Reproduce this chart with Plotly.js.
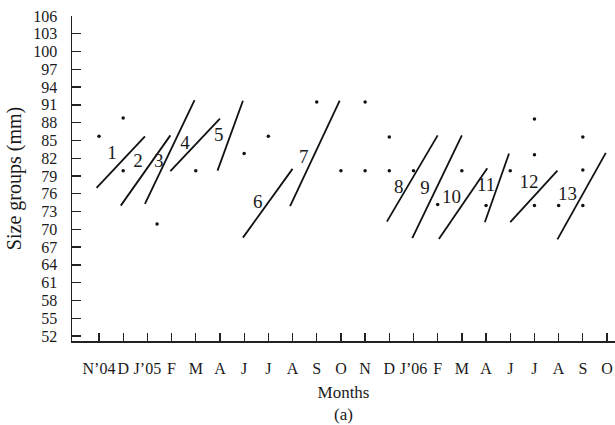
<!DOCTYPE html>
<html>
<head>
<meta charset="utf-8">
<script src="https://cdn.plot.ly/plotly-3.0.1.min.js"></script>
<style>html,body{margin:0;padding:0;background:#fff;}#chart{width:615px;height:425px;}</style>
</head>
<body>
<div id="chart"></div>
<script>
// Month categories (x tick labels), positions are their index
const months = ["N\u201904","D","J\u201905","F","M","A","J","J","A","S","O","N","D","J\u201906","F","M","A","J","J","A","S","O"];
const yTicks = [52,55,58,61,64,67,70,73,76,79,82,85,88,91,94,97,100,103,106];

// Dots: month index and size (mm)
const dotMonth = [0,1,1,2.4,4,6,7,9,10,11,11,12,12,13,14,15,16,17,18,18,18,19,20,20,20];
const dotSize  = [85.7,88.8,79.9,70.9,79.9,82.8,85.7,91.5,79.9,91.5,79.9,85.6,79.9,79.9,74.2,79.9,74.0,79.9,88.6,82.6,74.0,74.0,85.6,80.0,74.0];

// Cohort growth lines
const cohort      = ["1","2","3","4","5","6","7","8","9","10","11","12","13"];
const startMonth  = [-0.1,0.9,1.9,2.95,4.9,5.95,7.9,11.9,12.95,14.05,15.95,17.0,18.95];
const startSize   = [77.0,74.0,74.3,79.8,79.9,68.6,73.9,71.3,68.5,68.35,71.2,71.2,68.3];
const endMonth    = [1.9,2.95,3.95,5.0,5.95,8.0,9.95,14.0,15.0,16.05,16.95,18.95,20.95];
const endSize     = [85.7,85.85,91.8,88.7,91.7,80.2,91.7,85.85,85.85,80.3,82.8,79.9,82.9];
const labelMonth  = [0.54,1.61,2.47,3.56,4.95,6.56,8.46,12.39,13.48,14.57,16.0,17.78,19.37];
const labelSize   = [82.6,81.3,81.3,84.3,85.7,74.4,82.0,77.0,76.7,75.3,77.2,77.7,75.8];

const lx = [], ly = [];
for (let i = 0; i < cohort.length; i++) {
  lx.push(startMonth[i], endMonth[i], null);
  ly.push(startSize[i], endSize[i], null);
}

const FONT = "Liberation Serif, Times New Roman, serif";

const traces = [
  {x: lx, y: ly, mode: "lines", line: {color: "#111", width: 1.8}, hoverinfo: "skip", showlegend: false},
  {x: dotMonth, y: dotSize, mode: "markers", marker: {color: "#111", size: 3.5}, showlegend: false},
  {x: labelMonth, y: labelSize, mode: "text", text: cohort, textposition: "middle center",
   textfont: {family: FONT, size: 19, color: "#1a1a1a"}, showlegend: false}
];

const layout = {
  width: 615, height: 425,
  margin: {l: 72, r: 0, t: 16, b: 84},
  paper_bgcolor: "#fff", plot_bgcolor: "#fff",
  font: {family: FONT, color: "#1a1a1a"},
  xaxis: {
    range: [-1.116, 21.33],
    tickvals: months.map((m, i) => i), ticktext: months,
    tickangle: 0,
    ticks: "inside", ticklen: 8, tickwidth: 1.3, tickcolor: "#222",
    showline: true, linecolor: "#222", linewidth: 1.5,
    showgrid: false, zeroline: false,
    tickfont: {family: FONT, size: 16, color: "#1a1a1a"},
    ticklabelstandoff: 12,
    ticklabeloverflow: "allow",
    title: {text: "Months<br>(a)", font: {family: FONT, size: 17, color: "#1a1a1a"}, standoff: 10}
  },
  yaxis: {
    range: [51.15, 106],
    tickvals: yTicks, ticktext: yTicks.map(String),
    ticks: "inside", ticklen: 9, tickwidth: 1.3, tickcolor: "#222",
    showline: true, linecolor: "#222", linewidth: 1.5,
    showgrid: false, zeroline: false,
    tickfont: {family: FONT, size: 16, color: "#1a1a1a"},
    ticklabelstandoff: 10,
    title: {text: "Size groups (mm)", font: {family: FONT, size: 20, color: "#1a1a1a"}, standoff: 6}
  }
};

Plotly.newPlot("chart", traces, layout, {displayModeBar: false, staticPlot: true});
</script>
</body>
</html>
